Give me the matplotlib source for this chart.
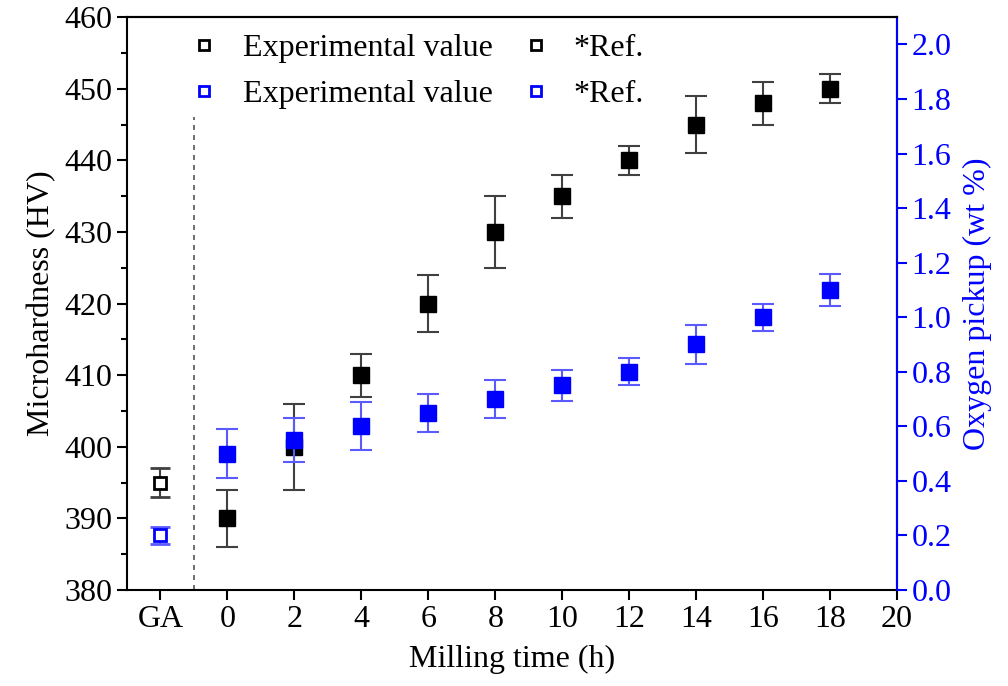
import numpy as np
import matplotlib.pyplot as plt
from matplotlib.lines import Line2D

plt.rcParams['font.family'] = ['Liberation Serif', 'DejaVu Serif']
plt.rcParams['mathtext.fontset'] = 'stix'

# Milling time (h); "GA" (gas atomised powder) sits at x = -2
time_h = [0, 2, 4, 6, 8, 10, 12, 14, 16, 18]
hv = [390, 400, 410, 420, 430, 435, 440, 445, 448, 450]
hv_err = [4, 6, 3, 4, 5, 3, 2, 4, 3, 2]
oxygen = [0.5, 0.55, 0.6, 0.65, 0.7, 0.75, 0.8, 0.9, 1.0, 1.1]
oxygen_err = [0.09, 0.08, 0.088, 0.07, 0.07, 0.057, 0.05, 0.07, 0.05, 0.06]

ga_x = -2
ga_hv, ga_hv_err = 395, 2
ga_oxygen, ga_oxygen_err = 0.2, 0.03

xticks = [-2, 0, 2, 4, 6, 8, 10, 12, 14, 16, 18, 20]
xticklabels = ['GA', '0', '2', '4', '6', '8', '10', '12', '14', '16', '18', '20']

blue = '#0000ff'
fs = 23

fig = plt.figure(figsize=(10.08, 6.86), dpi=100)
ax = fig.add_axes([0.126, 0.14, 0.764, 0.835])
ax2 = ax.twinx()

# microhardness (left axis)
ax.errorbar(time_h, hv, yerr=hv_err, fmt='s', color='black', ms=11,
            ecolor='#404040', elinewidth=1.5, capsize=8, capthick=1.5, zorder=3)
ax.errorbar([ga_x], [ga_hv], yerr=[ga_hv_err], fmt='s', mfc='white', mec='black',
            mew=2, ms=9, ecolor='#404040', elinewidth=1.5, capsize=7, capthick=1.5, zorder=3)

# separator between GA powder and milled samples
ax.plot([-1, -1], [380, 446], ls=(0, (3, 3)), color='#555555', lw=1.2, zorder=1)

ax.set_xlim(-3, 20)
ax.set_ylim(380, 460)
ax.set_xticks(xticks)
ax.set_xticklabels(xticklabels)
ax.set_yticks(np.arange(380, 461, 10))
ax.set_yticks(np.arange(385, 460, 10), minor=True)
ax.set_xlabel('Milling time (h)', fontsize=fs, labelpad=8)
ax.set_ylabel('Microhardness (HV)', fontsize=fs, labelpad=6)
ax.tick_params(axis='both', which='major', labelsize=fs, direction='out', length=7, width=1.5)
ax.tick_params(axis='y', which='minor', direction='out', length=4, width=1.5)
for s in ax.spines.values():
    s.set_linewidth(1.5)

# oxygen pickup (right axis)
ax2.errorbar(time_h, oxygen, yerr=oxygen_err, fmt='s', color=blue, ms=11,
             ecolor='#5a5aff', elinewidth=1.5, capsize=8, capthick=1.5, zorder=3)
ax2.errorbar([ga_x], [ga_oxygen], yerr=[ga_oxygen_err], fmt='s', mfc='white', mec=blue,
             mew=2, ms=9, ecolor='#5a5aff', elinewidth=1.5, capsize=7, capthick=1.5, zorder=3)
ax2.set_ylim(0, 2.1)
ax2.set_yticks(np.arange(0, 2.01, 0.2))
ax2.set_yticklabels(['%.1f' % v for v in np.arange(0, 2.01, 0.2)])
ax2.set_ylabel('Oxygen pickup (wt %)', fontsize=fs, color=blue, labelpad=8)
ax2.tick_params(axis='y', labelsize=fs, colors=blue, direction='out', length=7, width=1.5)
ax2.spines['right'].set_color(blue)
ax2.spines['right'].set_linewidth(1.5)
ax2.spines['left'].set_visible(False)
ax2.spines['top'].set_linewidth(1.5)
ax2.spines['bottom'].set_visible(False)

def sq(c):
    return Line2D([], [], ls='none', marker='s', ms=7, mfc='white', mec=c, mew=2)

handles = [sq('black'), sq(blue), sq('black'), sq(blue)]
labels = ['Experimental value', 'Experimental value', '*Ref.', '*Ref.']
ax2.legend(handles, labels, ncol=2, loc='upper left', bbox_to_anchor=(0.058, 1.0),
           frameon=False, fontsize=fs, handlelength=1.0, handletextpad=0.7,
           columnspacing=0.85, labelspacing=0.52, borderaxespad=0.12)

fig.savefig('out.png', dpi=100)
